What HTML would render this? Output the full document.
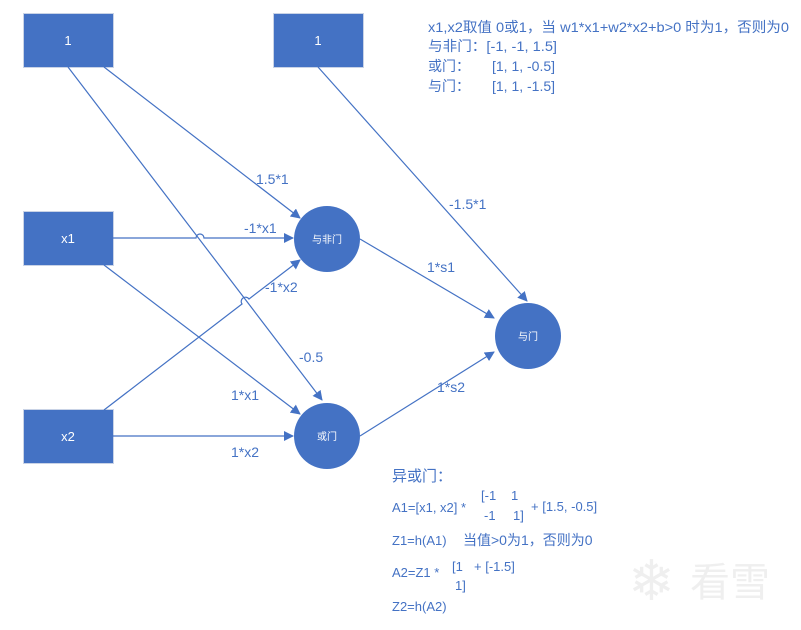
<!DOCTYPE html>
<html><head><meta charset="utf-8"><style>
html,body{margin:0;padding:0;background:#fff;}
svg{display:block;}
text{font-family:"Liberation Sans","Noto Sans CJK SC",sans-serif;}
</style></head><body>
<svg width="801" height="630" viewBox="0 0 801 630" xmlns="http://www.w3.org/2000/svg">
<defs>
<marker id="a" markerWidth="10" markerHeight="10" refX="9" refY="5" orient="auto" markerUnits="userSpaceOnUse">
<path d="M0,0 L10,5 L0,10 z" fill="#4472c4"/></marker>
</defs>
<g fill="#4472c4" stroke="#c9d3e6" stroke-width="1">
<rect x="23.5" y="13.5" width="90" height="54"/>
<rect x="273.5" y="13.5" width="90" height="54"/>
<rect x="23.5" y="211.5" width="90" height="54"/>
<rect x="23.5" y="409.5" width="90" height="54"/>
</g>
<g fill="#4472c4">
<circle cx="327" cy="239" r="33"/>
<circle cx="327" cy="436" r="33"/>
<circle cx="528" cy="336" r="33"/>
</g>
<g fill="#fff" font-size="13" text-anchor="middle">
<text x="68" y="45">1</text>
<text x="318" y="45">1</text>
<text x="68" y="243">x1</text>
<text x="68" y="441">x2</text>
</g>
<g fill="#fff" font-size="10" text-anchor="middle">
<text x="327" y="243">与非门</text>
<text x="327" y="440">或门</text>
<text x="528" y="340">与门</text>
</g>
<g stroke="#4472c4" stroke-width="1.2" fill="none">
<path d="M104,67 L300,218" marker-end="url(#a)"/>
<path d="M68,67 L322,400" marker-end="url(#a)"/>
<path d="M318,67 L527,301" marker-end="url(#a)"/>
<path d="M113,238 L196,238 A4,4 0 0 1 204,238 L293,238" marker-end="url(#a)"/>
<path d="M104,265 L300,414" marker-end="url(#a)"/>
<path d="M104,410 L242,304 A4,4 0 0 1 249,299 L300,260" marker-end="url(#a)"/>
<path d="M113,436 L293,436" marker-end="url(#a)"/>
<path d="M360,239 L494,318" marker-end="url(#a)"/>
<path d="M360,436 L494,352" marker-end="url(#a)"/>
</g>
<g fill="#4472c4" font-size="14">
<text x="256" y="184">1.5*1</text>
<text x="244" y="233">-1*x1</text>
<text x="265" y="292">-1*x2</text>
<text x="299" y="362">-0.5</text>
<text x="231" y="400">1*x1</text>
<text x="231" y="457">1*x2</text>
<text x="449" y="209">-1.5*1</text>
<text x="427" y="272">1*s1</text>
<text x="437" y="392">1*s2</text>
<text x="428" y="32" textLength="361" lengthAdjust="spacingAndGlyphs">x1,x2取值 0或1，当 w1*x1+w2*x2+b&gt;0 时为1，否则为0</text>
<text x="428" y="51" textLength="129" lengthAdjust="spacingAndGlyphs">与非门：[-1, -1, 1.5]</text>
<text x="428" y="71">或门：</text><text x="492" y="71">[1, 1, -0.5]</text>
<text x="428" y="91">与门：</text><text x="492" y="91">[1, 1, -1.5]</text>
<text x="392" y="481" font-size="15">异或门：</text>
<text x="392" y="512" font-size="13">A1=[x1, x2] *</text>
<text x="481" y="500" font-size="13">[-1</text><text x="511" y="500" font-size="13">1</text>
<text x="484" y="520" font-size="13">-1</text><text x="513" y="520" font-size="13">1]</text>
<text x="531" y="511" font-size="13">+ [1.5, -0.5]</text>
<text x="392" y="545" font-size="13">Z1=h(A1)</text>
<text x="463" y="545" font-size="14">当值&gt;0为1，否则为0</text>
<text x="392" y="577" font-size="13">A2=Z1 *</text>
<text x="452" y="571" font-size="13">[1</text>
<text x="455" y="590" font-size="13">1]</text>
<text x="474" y="571" font-size="13">+ [-1.5]</text>
<text x="392" y="611" font-size="13">Z2=h(A2)</text>
</g>
<text x="628" y="600" fill="#efefef" font-size="56">❄</text>
<text x="690" y="596" fill="#efefef" font-size="40">看雪</text>
</svg>
</body></html>
